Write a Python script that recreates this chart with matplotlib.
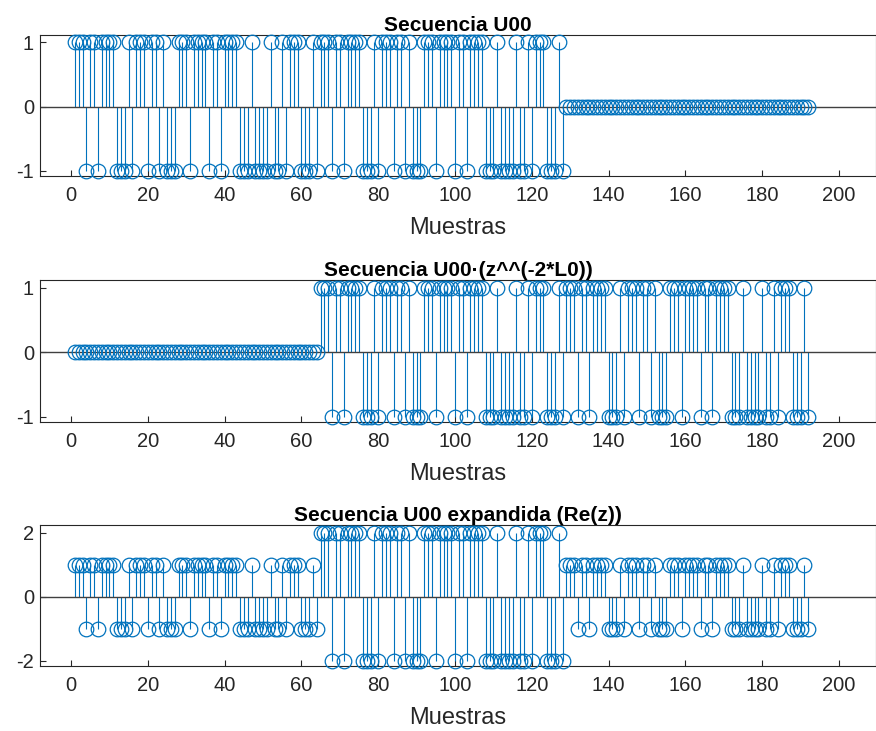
import matplotlib
matplotlib.use("Agg")
import matplotlib.pyplot as plt
import numpy as np

plt.rcParams["font.family"] = ["Liberation Sans", "DejaVu Sans"]
plt.rcParams["axes.unicode_minus"] = False

# U00 sequence (128 samples, +/-1)
u00 = [
    1, 1, 1, -1, 1, 1, -1, 1, 1, 1, 1, -1, -1, -1, 1, -1,
    1, 1, 1, -1, 1, 1, -1, 1, -1, -1, -1, 1, 1, 1, -1, 1,
    1, 1, 1, -1, 1, 1, -1, 1, 1, 1, 1, -1, -1, -1, 1, -1,
    -1, -1, -1, 1, -1, -1, 1, -1, 1, 1, 1, -1, -1, -1, 1, -1,
    1, 1, 1, -1, 1, 1, -1, 1, 1, 1, 1, -1, -1, -1, 1, -1,
    1, 1, 1, -1, 1, 1, -1, 1, -1, -1, -1, 1, 1, 1, -1, 1,
    1, 1, 1, -1, 1, 1, -1, 1, 1, 1, 1, -1, -1, -1, 1, -1,
    -1, -1, -1, 1, -1, -1, 1, -1, 1, 1, 1, -1, -1, -1, 1, -1,
]
L0 = 32
delay = 2 * L0
n_samples = len(u00) + delay
samples = np.arange(1, n_samples + 1)

seq_orig = np.concatenate([np.array(u00, float), np.zeros(delay)])
seq_delayed = np.concatenate([np.zeros(delay), np.array(u00, float)])
seq_expanded = seq_orig + seq_delayed

titles = [
    "Secuencia U00",
    "Secuencia U00\u00b7(z^^(-2*L0))",
    "Secuencia U00 expandida (Re(z))",
]
xticks = list(range(0, 201, 20))

BLUE = "#0072BD"
DARK = "#262626"

W, H = 876, 731
fig = plt.figure(figsize=(W / 100, H / 100), dpi=100)

# axes boxes in pixels: (left, top, right, bottom)
boxes = [(40.3, 34.7, 875.5, 176.0), (40.3, 280.0, 875.5, 422.0), (40.3, 525.0, 875.5, 666.0)]
series = [seq_orig, seq_delayed, seq_expanded]
yticks_list = [[-1, 0, 1], [-1, 0, 1], [-2, 0, 2]]
ylims = [(-1.08, 1.12), (-1.08, 1.12), (-2.16, 2.24)]

for box, y, title, yt, yl in zip(boxes, series, titles, yticks_list, ylims):
    l, t, r, b = box
    ax = fig.add_axes([l / W, 1 - b / H, (r - l) / W, (b - t) / H])
    ml, sl, bl = ax.stem(samples, y, linefmt="-", markerfmt="o", basefmt=" ")
    plt.setp(sl, color=BLUE, linewidth=0.8)
    plt.setp(ml, markerfacecolor="none", markeredgecolor=BLUE,
             markersize=10.5, markeredgewidth=0.9, clip_on=False, zorder=3)
    ax.axhline(0, color="#404040", linewidth=1.0, zorder=2.5)
    ax.set_xlim(-8, 209.5)
    ax.set_ylim(*yl)
    ax.set_xticks(xticks)
    ax.set_yticks(yt)
    ax.tick_params(direction="in", length=4, width=0.8, labelsize=14.5,
                   colors=DARK, labelcolor=DARK)
    ax.tick_params(axis="x", pad=7)
    ax.tick_params(axis="y", pad=4.5)
    for s in ax.spines.values():
        s.set_color(DARK)
        s.set_linewidth(0.8)
    ax.set_xlabel("Muestras", fontsize=17, color=DARK, labelpad=9)
    ax.set_title(title, fontsize=15, fontweight="bold", color="black", pad=2.5)

fig.savefig("out.png", dpi=100)
